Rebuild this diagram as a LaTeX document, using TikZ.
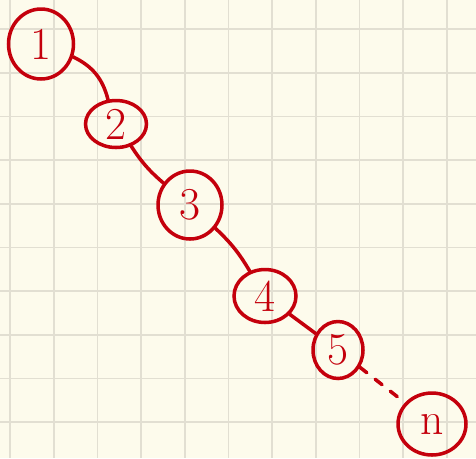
\documentclass[tikz,border=0pt]{standalone}
\usetikzlibrary{shapes.geometric}
\definecolor{paper}{HTML}{FDFBEC}
\definecolor{gridc}{HTML}{E2DFD2}
\definecolor{ink}{HTML}{C4000C}
\tikzset{
  vertex/.style={ellipse,draw=ink,line width=2pt,text=ink,inner sep=0pt,font=\fontsize{26}{26}\selectfont},
  link/.style={draw=ink,line width=2pt,line cap=round}
}

\begin{document}
\begin{tikzpicture}[x=0.02cm,y=-0.02cm]
\useasboundingbox (0,0) rectangle (476,458);
\fill[paper] (0,0) rectangle (476,458);
\foreach \k in {0,...,10}{\draw[gridc,line width=1pt] (10+43.7*\k,0)--(10+43.7*\k,458);}
\foreach \k in {0,...,9}{\draw[gridc,line width=1pt] (0,29+43.7*\k)--(476,29+43.7*\k);}
\node[vertex,minimum width=1.3cm,minimum height=1.4cm] (v1) at (41,44){1};
\node[vertex,minimum width=1.22cm,minimum height=0.94cm] (v2) at (116,124){2};
\node[vertex,minimum width=1.28cm,minimum height=1.36cm] (v3) at (190,205){3};
\node[vertex,minimum width=1.24cm,minimum height=1.06cm] (v4) at (265,296){4};
\node[vertex,minimum width=1.0cm,minimum height=1.14cm] (v5) at (338,350){5};
\node[vertex,minimum width=1.36cm,minimum height=1.24cm] (vn) at (432,424){n};
\draw[link] (v1) to[bend left=25] (v2);
\draw[link] (v2) to[bend right=8] (v3);
\draw[link] (v3) to[bend left=8] (v4);
\draw[link] (v4) -- (v5);
\draw[link,dashed,dash pattern=on 5pt off 6pt] (v5) -- (vn);
\end{tikzpicture}
\end{document}
